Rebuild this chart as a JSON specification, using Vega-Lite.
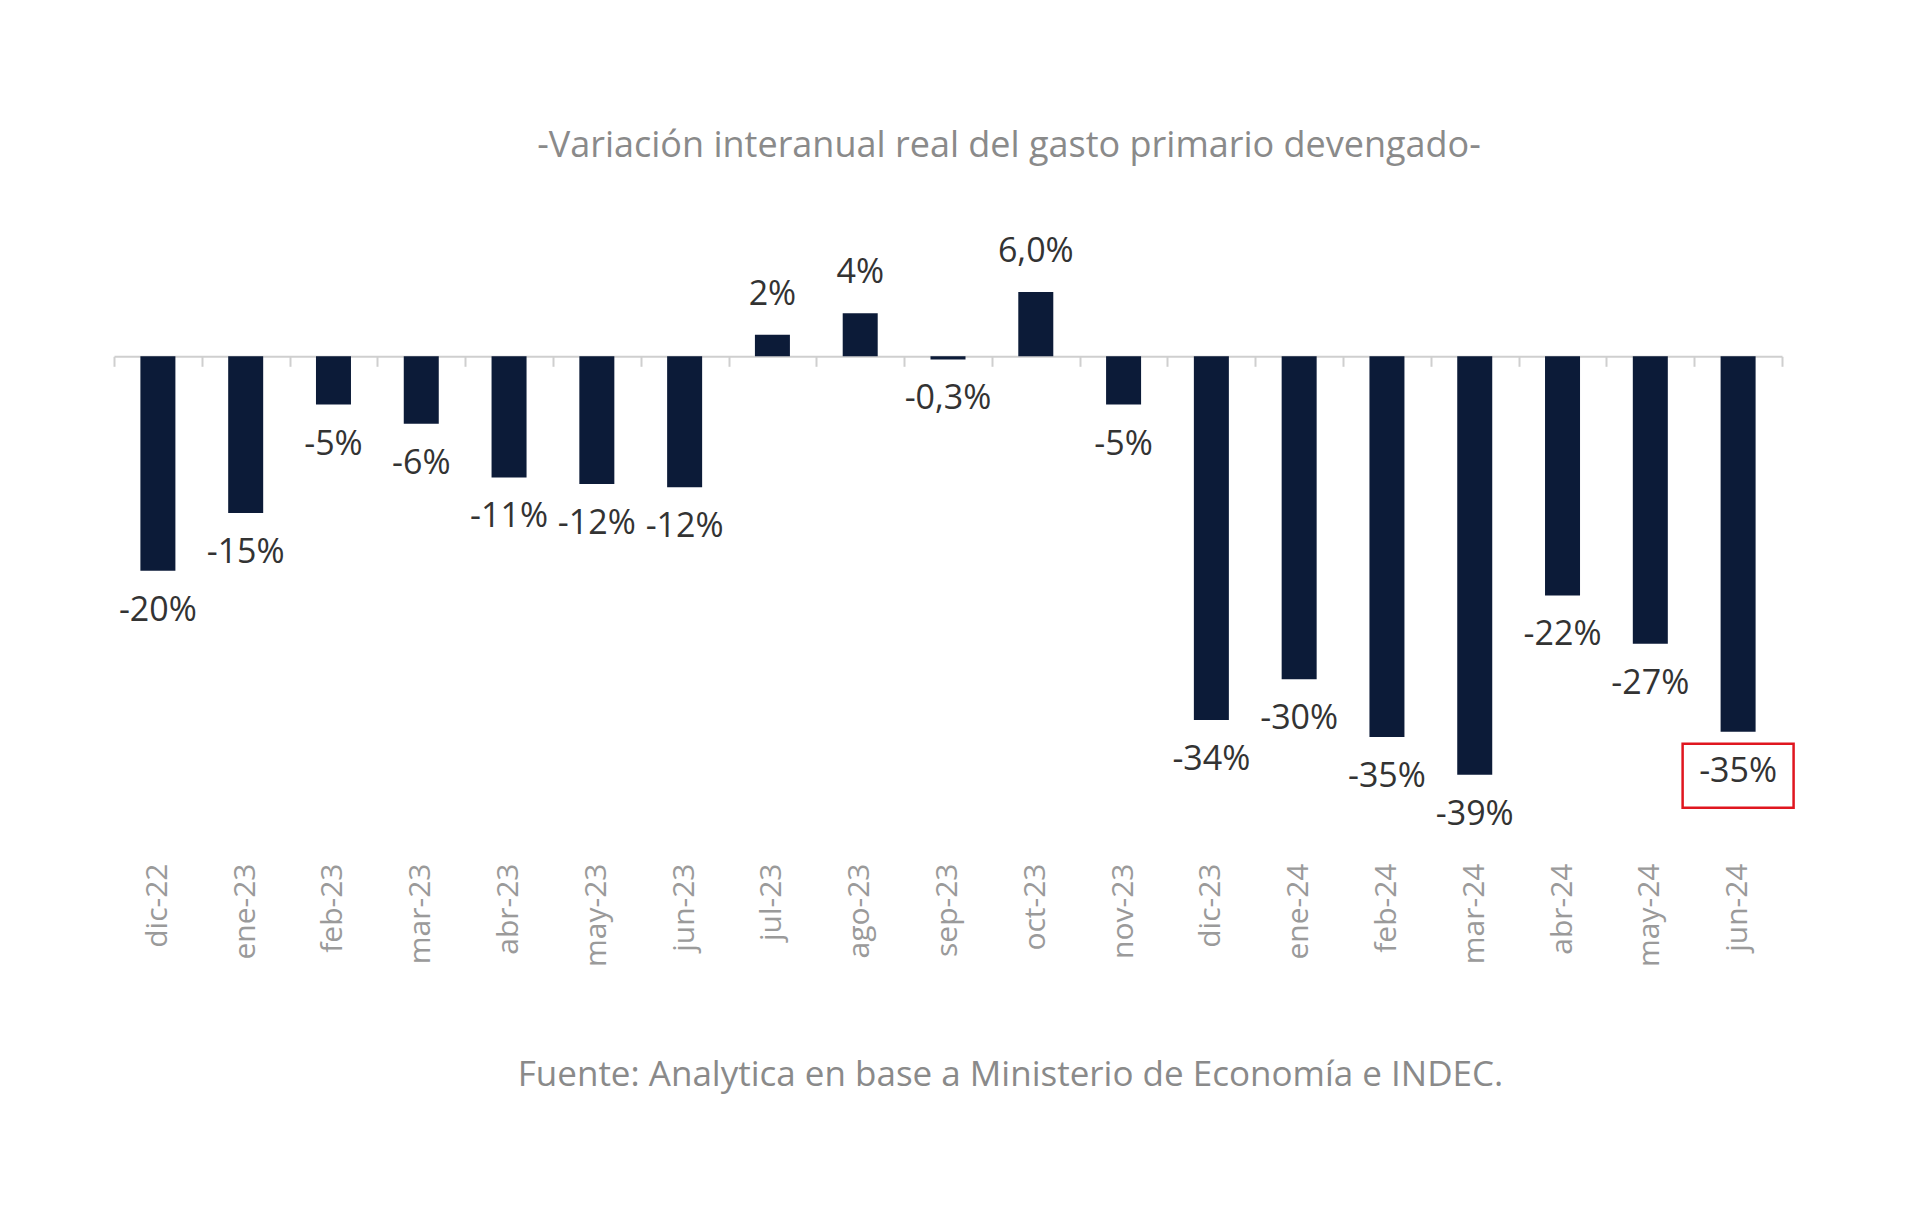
{
  "$schema": "https://vega.github.io/schema/vega-lite/v6.json",
  "width": 1668,
  "height": 590,
  "autosize": {"type": "none"},
  "padding": {"left": 114, "top": 249, "right": 138, "bottom": 387},
  "background": "white",
  "config": {"view": {"stroke": null}, "font": "Open Sans"},
  "title": {
    "text": "-Variación interanual real del gasto primario devengado-",
    "font": "Open Sans",
    "fontSize": 36,
    "fontWeight": "normal",
    "color": "#8a8a8a",
    "anchor": "middle",
    "dx": 61,
    "offset": 34,
    "baseline": "bottom"
  },
  "data": {
    "values": [
      {"mes": "dic-22", "valor": -20.0, "etiqueta": "-20%", "destacado": false},
      {"mes": "ene-23", "valor": -14.6, "etiqueta": "-15%", "destacado": false},
      {"mes": "feb-23", "valor": -4.5, "etiqueta": "-5%", "destacado": false},
      {"mes": "mar-23", "valor": -6.3, "etiqueta": "-6%", "destacado": false},
      {"mes": "abr-23", "valor": -11.3, "etiqueta": "-11%", "destacado": false},
      {"mes": "may-23", "valor": -11.9, "etiqueta": "-12%", "destacado": false},
      {"mes": "jun-23", "valor": -12.2, "etiqueta": "-12%", "destacado": false},
      {"mes": "jul-23", "valor": 2.0, "etiqueta": "2%", "destacado": false},
      {"mes": "ago-23", "valor": 4.0, "etiqueta": "4%", "destacado": false},
      {"mes": "sep-23", "valor": -0.3, "etiqueta": "-0,3%", "destacado": false},
      {"mes": "oct-23", "valor": 6.0, "etiqueta": "6,0%", "destacado": false},
      {"mes": "nov-23", "valor": -4.5, "etiqueta": "-5%", "destacado": false},
      {"mes": "dic-23", "valor": -33.9, "etiqueta": "-34%", "destacado": false},
      {"mes": "ene-24", "valor": -30.1, "etiqueta": "-30%", "destacado": false},
      {"mes": "feb-24", "valor": -35.5, "etiqueta": "-35%", "destacado": false},
      {"mes": "mar-24", "valor": -39.0, "etiqueta": "-39%", "destacado": false},
      {"mes": "abr-24", "valor": -22.3, "etiqueta": "-22%", "destacado": false},
      {"mes": "may-24", "valor": -26.8, "etiqueta": "-27%", "destacado": false},
      {"mes": "jun-24", "valor": -35.0, "etiqueta": "-35%", "destacado": true}
    ]
  },
  "resolve": {"axis": {"x": "independent"}},
  "layer": [
    {
      "mark": {"type": "bar", "color": "#0c1b38", "size": 35},
      "encoding": {
        "x": {
          "field": "mes",
          "type": "nominal",
          "sort": null,
          "scale": {"paddingInner": 0, "paddingOuter": 0},
          "axis": {
            "orient": "bottom",
            "domain": false,
            "ticks": false,
            "labelAngle": 270,
            "labelAlign": "right",
            "labelBaseline": "middle",
            "labelPadding": 24,
            "labelFont": "Open Sans",
            "labelFontSize": 30,
            "labelColor": "#9a9a9a",
            "title": "Fuente: Analytica en base a Ministerio de Economía e INDEC.",
            "titleFont": "Open Sans",
            "titleFontSize": 35,
            "titleFontWeight": "normal",
            "titleColor": "#8a8a8a",
            "titleX": 896,
            "titleY": 235,
            "titleAlign": "center",
            "titleBaseline": "middle"
          }
        },
        "y": {
          "field": "valor",
          "type": "quantitative",
          "scale": {"domain": [-45, 10], "nice": false, "zero": false},
          "axis": null
        }
      }
    },
    {
      "mark": {"type": "rule", "opacity": 0},
      "encoding": {
        "x": {
          "field": "mes",
          "type": "nominal",
          "sort": null,
          "axis": {
            "orient": "top",
            "offset": -107.3,
            "labels": false,
            "title": null,
            "domainColor": "#cfcfcf",
            "domainWidth": 2,
            "tickColor": "#cfcfcf",
            "tickWidth": 2,
            "tickSize": -10,
            "tickBand": "extent"
          }
        },
        "y": {"datum": 0, "type": "quantitative"}
      }
    },
    {
      "transform": [{"filter": "datum.valor < 0"}],
      "mark": {"type": "text", "fontSize": 34, "color": "#333333", "dy": 40, "baseline": "middle", "font": "Open Sans"},
      "encoding": {
        "x": {"field": "mes", "type": "nominal", "sort": null, "axis": null},
        "y": {"field": "valor", "type": "quantitative"},
        "text": {"field": "etiqueta"}
      }
    },
    {
      "transform": [{"filter": "datum.valor >= 0"}],
      "mark": {"type": "text", "fontSize": 34, "color": "#333333", "dy": -40, "baseline": "middle", "font": "Open Sans"},
      "encoding": {
        "x": {"field": "mes", "type": "nominal", "sort": null, "axis": null},
        "y": {"field": "valor", "type": "quantitative"},
        "text": {"field": "etiqueta"}
      }
    },
    {
      "transform": [{"filter": "datum.destacado"}],
      "mark": {
        "type": "point",
        "shape": "M-1.734,-1H1.734V1H-1.734Z",
        "size": 4096,
        "filled": false,
        "stroke": "#e0161f",
        "strokeWidth": 2.5,
        "opacity": 1,
        "yOffset": 44
      },
      "encoding": {
        "x": {"field": "mes", "type": "nominal", "sort": null, "axis": null},
        "y": {"field": "valor", "type": "quantitative"}
      }
    }
  ]
}
